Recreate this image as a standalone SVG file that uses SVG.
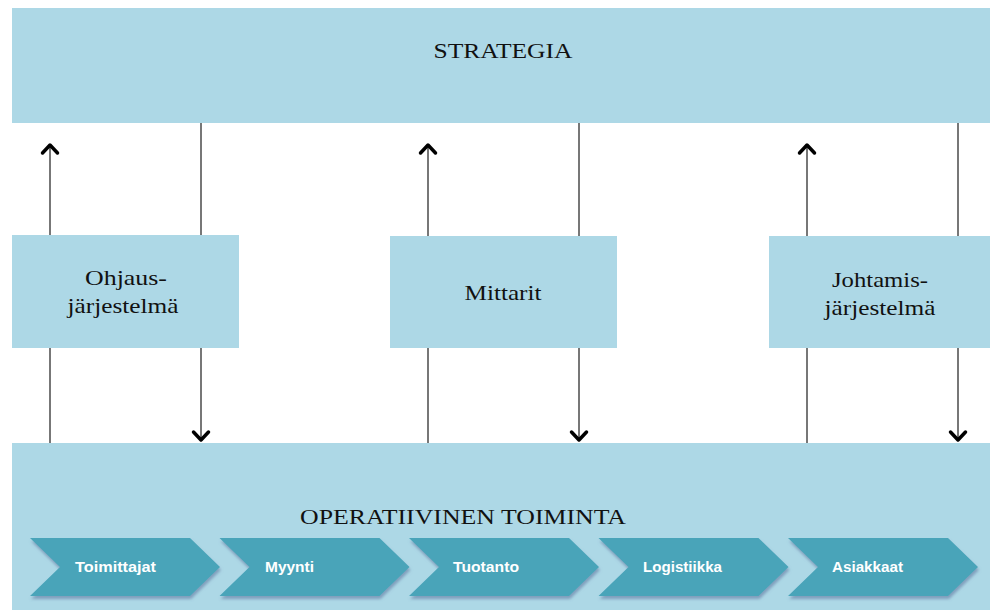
<svg xmlns="http://www.w3.org/2000/svg" width="990" height="610" viewBox="0 0 990 610">
  <style>
    .band { fill: #add8e6; }
    .title { font-family: "Liberation Serif", "Times New Roman", serif; font-size: 21px; fill: #111; text-anchor: middle; }
    .label { font-family: "Liberation Serif", "Times New Roman", serif; font-size: 21px; fill: #111; text-anchor: middle; }
    .step { fill: #4aa4b9; filter: url(#shadow); }
    .steptext { font-family: "Liberation Sans", Arial, sans-serif; font-weight: bold; font-size: 14.5px; fill: #ffffff; }
    .link { stroke: #555; stroke-width: 1.6; fill: none; }
    .tip { stroke: #000; stroke-width: 3.5; fill: none; stroke-linecap: round; stroke-linejoin: round; }
  </style>
  <defs>
    <filter id="shadow" x="-10%" y="-20%" width="120%" height="150%">
      <feGaussianBlur in="SourceAlpha" stdDeviation="1.5"/>
      <feOffset dx="1" dy="3" result="b"/>
      <feFlood flood-color="#5a6f9a" flood-opacity="0.55"/>
      <feComposite in2="b" operator="in"/>
      <feMerge><feMergeNode/><feMergeNode in="SourceGraphic"/></feMerge>
    </filter>
    <path id="chev" d="M0,0 H160 L190,29 L160,58 H0 L30,29 Z"/>
  </defs>

  <rect width="990" height="610" fill="#ffffff"/>

  <!-- top band -->
  <g id="strategia">
    <rect class="band" x="12" y="8" width="978" height="115"/>
    <text class="title" x="503" y="58" textLength="139" lengthAdjust="spacingAndGlyphs">STRATEGIA</text>
  </g>

  <!-- middle nodes -->
  <g id="ohjaus">
    <rect class="band" x="12" y="235" width="227" height="113"/>
    <text class="label" x="126" y="285" textLength="82" lengthAdjust="spacingAndGlyphs">Ohjaus-</text>
    <text class="label" x="123" y="313" textLength="111" lengthAdjust="spacingAndGlyphs">järjestelmä</text>
  </g>
  <g id="mittarit">
    <rect class="band" x="390" y="236" width="227" height="112"/>
    <text class="label" x="503" y="300" textLength="77" lengthAdjust="spacingAndGlyphs">Mittarit</text>
  </g>
  <g id="johtamis">
    <rect class="band" x="769" y="236" width="221" height="112"/>
    <text class="label" x="880" y="287" textLength="96" lengthAdjust="spacingAndGlyphs">Johtamis-</text>
    <text class="label" x="880" y="315" textLength="111" lengthAdjust="spacingAndGlyphs">järjestelmä</text>
  </g>

  <!-- bottom band with process steps -->
  <g id="operatiivinen">
    <rect class="band" x="12" y="443" width="978" height="167"/>
    <text class="title" x="463" y="524" textLength="326" lengthAdjust="spacingAndGlyphs">OPERATIIVINEN TOIMINTA</text>
  </g>
  <g id="toimittajat">
    <use class="step" href="#chev" x="30" y="538"/>
    <text class="steptext" x="75" y="572" textLength="81" lengthAdjust="spacingAndGlyphs">Toimittajat</text>
  </g>
  <g id="myynti">
    <use class="step" href="#chev" x="219.5" y="538"/>
    <text class="steptext" x="265" y="572" textLength="49" lengthAdjust="spacingAndGlyphs">Myynti</text>
  </g>
  <g id="tuotanto">
    <use class="step" href="#chev" x="409" y="538"/>
    <text class="steptext" x="453" y="572" textLength="66" lengthAdjust="spacingAndGlyphs">Tuotanto</text>
  </g>
  <g id="logistiikka">
    <use class="step" href="#chev" x="598.5" y="538"/>
    <text class="steptext" x="643" y="572" textLength="79" lengthAdjust="spacingAndGlyphs">Logistiikka</text>
  </g>
  <g id="asiakkaat">
    <use class="step" href="#chev" x="788" y="538"/>
    <text class="steptext" x="832" y="572" textLength="71" lengthAdjust="spacingAndGlyphs">Asiakkaat</text>
  </g>

  <!-- connectors -->
  <g id="connectors">
    <!-- upward links: operations -> node -> strategy -->
    <line class="link" x1="50" y1="443" x2="50" y2="348"/>
    <line class="link" x1="50" y1="235" x2="50" y2="145"/>
    <polyline class="tip" points="42.5,153 50,145 57.5,153"/>
    <line class="link" x1="428" y1="443" x2="428" y2="348"/>
    <line class="link" x1="428" y1="236" x2="428" y2="145"/>
    <polyline class="tip" points="420.5,153 428,145 435.5,153"/>
    <line class="link" x1="807" y1="443" x2="807" y2="348"/>
    <line class="link" x1="807" y1="236" x2="807" y2="145"/>
    <polyline class="tip" points="799.5,153 807,145 814.5,153"/>
    <!-- downward links: strategy -> node -> operations -->
    <line class="link" x1="201" y1="123" x2="201" y2="235"/>
    <line class="link" x1="201" y1="348" x2="201" y2="440"/>
    <polyline class="tip" points="193.5,432 201,440 208.5,432"/>
    <line class="link" x1="579" y1="123" x2="579" y2="236"/>
    <line class="link" x1="579" y1="348" x2="579" y2="440"/>
    <polyline class="tip" points="571.5,432 579,440 586.5,432"/>
    <line class="link" x1="958" y1="123" x2="958" y2="236"/>
    <line class="link" x1="958" y1="348" x2="958" y2="440"/>
    <polyline class="tip" points="950.5,432 958,440 965.5,432"/>
  </g>
</svg>
